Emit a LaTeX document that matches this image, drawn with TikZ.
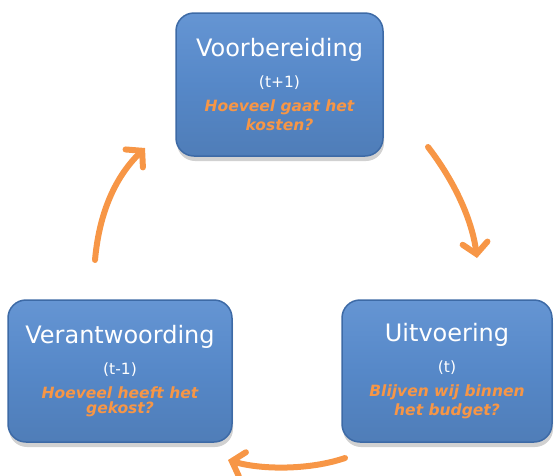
\documentclass[tikz,border=0pt]{standalone}
\usepackage{fontspec}
\setmainfont{DejaVu Sans}
\usetikzlibrary{arrows.meta,shadows}
\definecolor{boxblue}{HTML}{5688C8}
\definecolor{boxtop}{HTML}{6595D3}
\definecolor{boxedge}{HTML}{3D6AA6}
\definecolor{accent}{HTML}{F79646}
\tikzset{
  phase/.style={rounded corners=18pt, draw=boxedge, line width=1.5pt,
    top color=boxtop, bottom color=boxblue!92!black, middle color=boxblue,
    drop shadow={shadow xshift=1pt, shadow yshift=-5pt, opacity=0.3, fill=black!60},
    align=center, text=white, inner sep=0pt},
  cyclearrow/.style={draw=accent, line width=6pt, line cap=round,
    -{Straight Barb[length=11pt, width=25pt, line cap=round]}},
}
\newcommand{\ttl}[1]{{\fontsize{24}{28}\selectfont #1}}
\newcommand{\tlab}[1]{{\fontsize{15.5}{18}\selectfont #1}}
\newcommand{\qst}[1]{{\color{accent}\fontsize{15.5}{18}\selectfont\bfseries\itshape #1}}
\begin{document}
\begin{tikzpicture}[x=1pt,y=-1pt]
\useasboundingbox (0,0) rectangle (556,475);
\node[phase, minimum width=207pt, minimum height=143pt] (prep) at (279.5,84.5)
  {\ttl{Voorbereiding}\\[14pt]\tlab{(t+1)}\\[9pt]\qst{Hoeveel gaat het}\\[3pt]\qst{kosten?}};
\node[phase, minimum width=224pt, minimum height=142pt] (acct) at (120,371)
  {\ttl{Verantwoording}\\[14pt]\tlab{(t-1)}\\[9pt]\qst{Hoeveel heeft het}\\[3pt]\qst{gekost?}};
\node[phase, minimum width=210pt, minimum height=142pt] (exec) at (447,371)
  {\ttl{Uitvoering}\\[14pt]\tlab{(t)}\\[9pt]\qst{Blijven wij binnen}\\[3pt]\qst{het budget?}};
\coordinate (a1s) at (428,147);
\coordinate (a1e) at (477,258);
\coordinate (a2s) at (345,458);
\coordinate (a2e) at (228,460);
\coordinate (a3s) at (95,260);
\coordinate (a3e) at (145,148);
\draw[cyclearrow] (a1s) .. controls (455,182) and (472,220) .. (a1e);
\draw[cyclearrow] (a2s) .. controls (310,470) and (262,470) .. (a2e);
\draw[cyclearrow] (a3s) .. controls (99,215) and (114,178) .. (a3e);
\end{tikzpicture}
\end{document}
